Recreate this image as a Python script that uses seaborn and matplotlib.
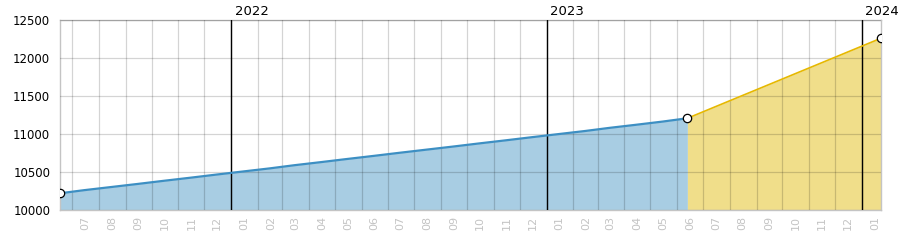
import matplotlib
matplotlib.use("Agg")
import matplotlib.pyplot as plt
import matplotlib.dates as mdates
import seaborn as sns
import pandas as pd
import numpy as np

# ---- data ----
hist_dates = ["2021-06-17", "2021-07-15", "2021-08-15", "2021-09-15", "2021-10-15",
              "2021-11-15", "2021-12-15", "2022-01-15", "2022-02-15", "2022-03-15",
              "2022-04-15", "2022-05-15", "2022-06-15", "2022-07-15", "2022-08-15",
              "2022-09-15", "2022-10-15", "2022-11-15", "2022-12-15", "2023-01-15",
              "2023-02-15", "2023-03-15", "2023-04-15", "2023-05-15", "2023-06-13"]
hist_values = [10220, 10261, 10302, 10343, 10384, 10425, 10466, 10507, 10548, 10589,
               10630, 10671, 10712, 10753, 10794, 10835, 10876, 10917, 10958, 10999,
               11040, 11081, 11122, 11163, 11207]
fc_dates = ["2023-06-13", "2024-01-23"]
fc_values = [11207, 12260]
marker_dates = ["2021-06-17", "2023-06-13", "2024-01-23"]
marker_values = [10220, 11207, 12260]
year_labels = ["2022", "2023", "2024"]
y_ticks = [10000, 10500, 11000, 11500, 12000, 12500]

hist = pd.DataFrame({"date": pd.to_datetime(hist_dates), "value": hist_values})
fc = pd.DataFrame({"date": pd.to_datetime(fc_dates), "value": fc_values})
mk = pd.DataFrame({"date": pd.to_datetime(marker_dates), "value": marker_values})

BLUE_LINE = "#3d8fc3"
BLUE_FILL = "#a8cde3"
YEL_LINE = "#e6b800"
YEL_FILL = "#f0de8a"

sns.set_style("white")
plt.rcParams["font.family"] = ["DejaVu Sans"]

fig = plt.figure(figsize=(9, 2.5), dpi=100)
ax = fig.add_axes([60 / 900, 40 / 250, 821 / 900, 190 / 250])

ax.fill_between(hist["date"], 10000, hist["value"], color=BLUE_FILL, lw=0, zorder=1)
ax.fill_between(fc["date"], 10000, fc["value"], color=YEL_FILL, lw=0, zorder=1)
sns.lineplot(data=hist, x="date", y="value", ax=ax, color=BLUE_LINE, lw=1.6, zorder=4)
sns.lineplot(data=fc, x="date", y="value", ax=ax, color=YEL_LINE, lw=1.2, zorder=4)
sns.scatterplot(data=mk, x="date", y="value", ax=ax, marker="o", s=36,
                facecolor="white", edgecolor="black", linewidth=0.9, zorder=6)

ax.set_xlim(hist["date"].iloc[0], fc["date"].iloc[-1])
ax.set_ylim(10000, 12500)
ax.set_yticks(y_ticks)
ax.set_yticklabels([str(v) for v in y_ticks])
ax.set_xlabel("")
ax.set_ylabel("")

# month gridlines at month starts, labels mid-month
ax.xaxis.set_major_locator(mdates.MonthLocator(bymonthday=1))
ax.xaxis.set_major_formatter(plt.NullFormatter())
ax.xaxis.set_minor_locator(mdates.MonthLocator(bymonthday=16))
ax.xaxis.set_minor_formatter(mdates.DateFormatter("%m"))
ax.tick_params(axis="x", which="both", length=0)
ax.tick_params(axis="x", which="minor", labelsize=8, labelcolor="#c4c4c4",
               labelrotation=90, pad=4)
ax.tick_params(axis="y", length=0, labelsize=8.5, labelcolor="black", pad=7)

ax.set_axisbelow(False)
ax.grid(True, which="major", axis="both", color="black", alpha=0.17, lw=0.9)

for sp in ax.spines.values():
    sp.set_color("#c4c4c4")
    sp.set_linewidth(1)

trans = ax.get_xaxis_transform()
for yl in year_labels:
    d = pd.Timestamp(f"{yl}-01-01")
    ax.axvline(d, color="black", lw=1, zorder=3.5)
    ax.text(mdates.date2num(d) + 4, 1.012, yl, transform=trans, ha="left", va="bottom",
            fontsize=9.5, color="black", clip_on=False)

fig.savefig("out.png", dpi=100)
